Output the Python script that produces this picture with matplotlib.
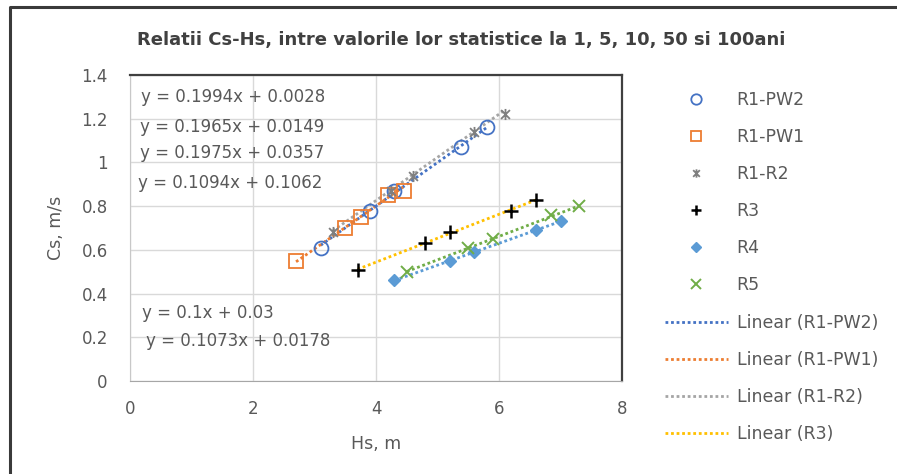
import numpy as np
import matplotlib
matplotlib.use("agg")
import matplotlib.pyplot as plt
from matplotlib.path import Path
from matplotlib.lines import Line2D

plt.rcParams['font.family'] = ['DejaVu Sans']

# Hs (m) and Cs (m/s) pairs for each station / period set
series = ['R1-PW2', 'R1-PW1', 'R1-R2', 'R3', 'R4', 'R5']
hs = {
    'R1-PW2': [3.10, 3.90, 4.30, 5.38, 5.80],
    'R1-PW1': [2.70, 3.50, 3.75, 4.20, 4.45],
    'R1-R2': [3.30, 4.25, 4.60, 5.60, 6.10],
    'R3': [3.70, 4.80, 5.20, 6.20, 6.60],
    'R4': [4.30, 5.20, 5.60, 6.60, 7.00],
    'R5': [4.50, 5.50, 5.90, 6.85, 7.30],
}
cs = {
    'R1-PW2': [0.61, 0.78, 0.87, 1.07, 1.16],
    'R1-PW1': [0.55, 0.70, 0.75, 0.85, 0.87],
    'R1-R2': [0.68, 0.87, 0.94, 1.14, 1.22],
    'R3': [0.51, 0.63, 0.68, 0.78, 0.83],
    'R4': [0.46, 0.55, 0.59, 0.69, 0.73],
    'R5': [0.50, 0.61, 0.65, 0.76, 0.80],
}
# linear trendline coefficients (slope, intercept)
slope = {'R1-PW2': 0.1994, 'R1-PW1': 0.1965, 'R1-R2': 0.1975,
         'R3': 0.1094, 'R4': 0.1, 'R5': 0.1073}
intercept = {'R1-PW2': 0.0028, 'R1-PW1': 0.0149, 'R1-R2': 0.0357,
             'R3': 0.1062, 'R4': 0.03, 'R5': 0.0178}
eq_text = {'R1-PW2': 'y = 0.1994x + 0.0028', 'R1-PW1': 'y = 0.1965x + 0.0149',
           'R1-R2': 'y = 0.1975x + 0.0357', 'R3': 'y = 0.1094x + 0.1062',
           'R4': 'y = 0.1x + 0.03', 'R5': 'y = 0.1073x + 0.0178'}
x_ticks = [0, 2, 4, 6, 8]
y_ticks = [0, 0.2, 0.4, 0.6, 0.8, 1.0, 1.2, 1.4]

# equation label anchors in data coords
eq_pos = {'R1-PW2': (0.18, 1.30), 'R1-PW1': (0.16, 1.163), 'R1-R2': (0.16, 1.043),
          'R3': (0.13, 0.908), 'R4': (0.20, 0.312), 'R5': (0.26, 0.185)}

star = Path([(-1, -1), (1, 1), (-1, 1), (1, -1), (0, -1.25), (0, 1.25)],
            [Path.MOVETO, Path.LINETO] * 3)

style = {
    'R1-PW2': dict(marker='o', ms=10, mfc='none', mec='#4472C4', mew=1.3),
    'R1-PW1': dict(marker='s', ms=10, mfc='none', mec='#ED7D31', mew=1.3),
    'R1-R2': dict(marker=star, ms=8, mfc='none', mec='#7F7F7F', mew=1.3),
    'R3': dict(marker='+', ms=10, mec='#000000', mew=1.8),
    'R4': dict(marker='D', ms=6.5, mfc='#5B9BD5', mec='#5B9BD5', mew=1),
    'R5': dict(marker='x', ms=9, mec='#70AD47', mew=1.4),
}
trend_color = {'R1-PW2': '#4472C4', 'R1-PW1': '#ED7D31', 'R1-R2': '#A5A5A5',
               'R3': '#FFC000', 'R4': '#5B9BD5', 'R5': '#70AD47'}

fig = plt.figure(figsize=(8.97, 4.74), dpi=100)
ax = fig.add_axes([130 / 897, 1 - 381 / 474, 492 / 897, 306 / 474])

grid_c = '#D9D9D9'
text_c = '#595959'

point_handles = []
for s in series:
    h, = ax.plot(hs[s], cs[s], linestyle='none', label=s, zorder=4, **style[s])
    point_handles.append(h)

trend_handles = []
for s in series:
    xs = np.array([min(hs[s]), max(hs[s])])
    h, = ax.plot(xs, slope[s] * xs + intercept[s], color=trend_color[s],
                 lw=2, linestyle=(0, (1, 1)), zorder=3,
                 label='Linear (%s)' % s)
    trend_handles.append(h)

for s in series:
    ax.text(eq_pos[s][0], eq_pos[s][1], eq_text[s], fontsize=12,
            color=text_c, va='center', ha='left', zorder=5)

ax.set_xlim(0, 8)
ax.set_ylim(0, 1.4)
ax.set_xticks(x_ticks)
ax.set_yticks(y_ticks)
ax.set_yticklabels(['%g' % v for v in y_ticks])
ax.grid(True, color=grid_c, lw=1)
ax.set_axisbelow(True)
ax.tick_params(length=0, labelsize=12, labelcolor=text_c)
ax.tick_params(axis='y', pad=16)
ax.tick_params(axis='x', pad=14)
ax.spines['left'].set_color('#C8C8C8')
ax.spines['bottom'].set_color('#A6A6A6')
for side in ('top', 'right'):
    ax.spines[side].set_color('#404040')
    ax.spines[side].set_linewidth(1.6)

ax.set_xlabel('Hs, m', fontsize=12.5, color=text_c, labelpad=12)
ax.set_ylabel('Cs, m/s', fontsize=12.5, color=text_c, labelpad=12)

fig.text(0.5 * (131 + 792) / 897, 1 - 40 / 474,
         'Relatii Cs-Hs, intre valorile lor statistice la 1, 5, 10, 50 si 100ani',
         fontsize=13, color='#404040', ha='center', va='center', weight='bold')

leg = fig.legend(handles=point_handles + trend_handles[:4], loc='upper left',
                 bbox_to_anchor=(665 / 897, 1 - 91 / 474),
                 bbox_transform=fig.transFigure, frameon=False, fontsize=12.5,
                 labelcolor=text_c, numpoints=1, handlelength=3.6,
                 handletextpad=0.52, labelspacing=1.1, borderpad=0,
                 borderaxespad=0)
for h in leg.legend_handles[:6]:
    h.set_markersize(h.get_markersize() * 0.75)

# outer chart border, clipped at right and bottom
fig.add_artist(Line2D([10 / 897, 10 / 897, 1.0], [0.0, 1 - 7 / 474, 1 - 7 / 474],
                      transform=fig.transFigure, color='#3A3A3A', lw=2.2))

fig.savefig('out.png', dpi=100)
